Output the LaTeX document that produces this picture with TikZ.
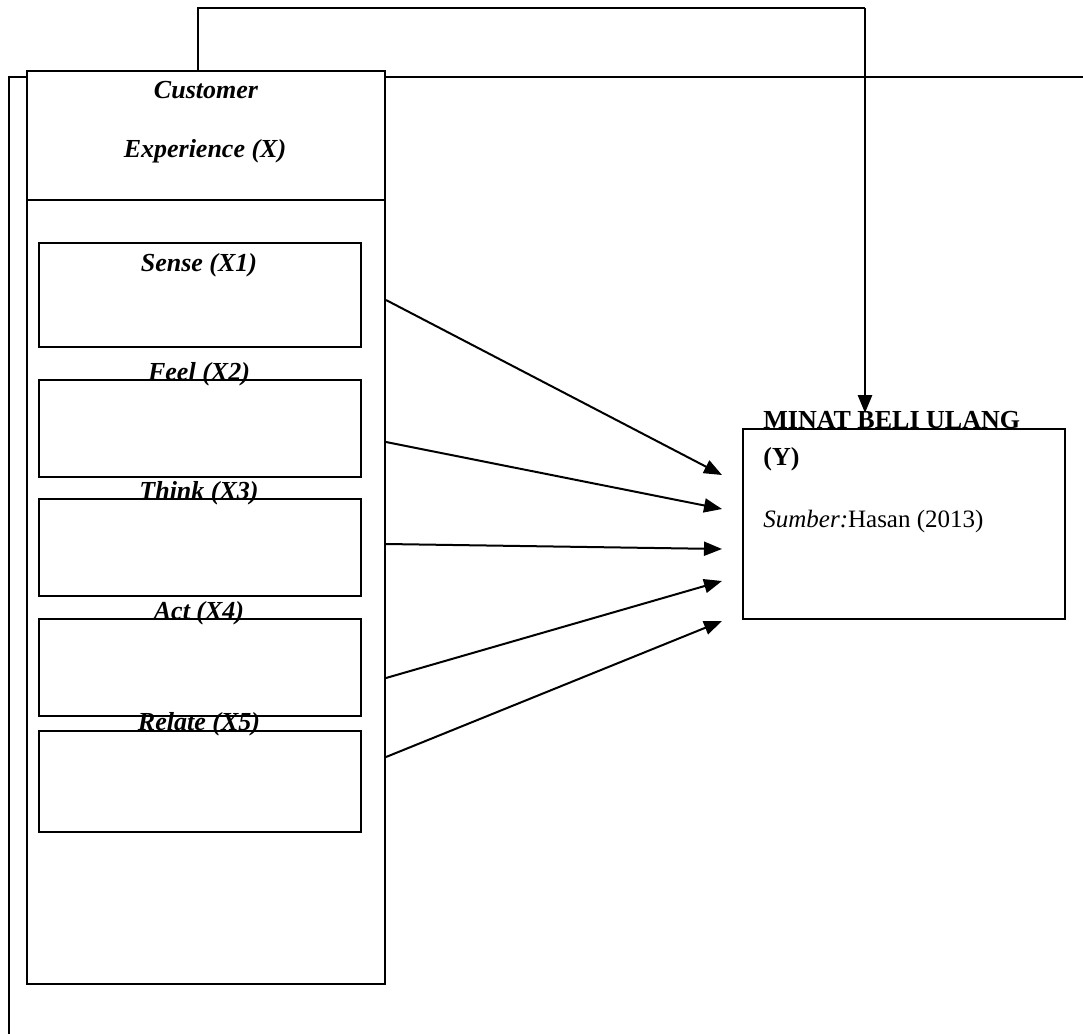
\documentclass[tikz,border=0pt]{standalone}
\usepackage{fontspec}
\setmainfont{Liberation Serif}
\usetikzlibrary{arrows.meta,positioning}

\begin{document}
\begin{tikzpicture}[x=0.5pt, y=-0.5pt,
    box/.style={draw, line width=1pt, inner sep=0pt},
    lbl/.style={font=\fontsize{13}{15}\selectfont\bfseries\itshape, anchor=base, inner sep=0pt},
    arr/.style={-{Triangle[length=9pt, width=7pt]}, line width=1pt}]
  \useasboundingbox (0,0) rectangle (1083,1034);
  % Outer frame lines
  \draw[line width=1pt] (27,77) -- (9,77) -- (9,1034);
  \draw[line width=1pt] (385,77) -- (1083,77);
  % Customer experience
  \node[box, minimum width=179pt, minimum height=456.5pt] (cx) at (206,527.5) {};
  \draw[line width=1pt] (cx.west |- 0,200) -- (cx.east |- 0,200);
  \node[lbl] (cxa) at (206,98) {Customer};
  \node[lbl] (cxb) at (205,157) {Experience (X)};
  % Dimensions
  \node[box, minimum width=161pt, minimum height=52pt] (sense) at (200,295) {};
  \node[box, minimum width=161pt, minimum height=48.5pt] (feel) at (200,428.5) {};
  \node[box, minimum width=161pt, minimum height=48.5pt] (think) at (200,547.5) {};
  \node[box, minimum width=161pt, minimum height=48.5pt] (act) at (200,667.5) {};
  \node[box, minimum width=161pt, minimum height=50.5pt] (relate) at (200,781.5) {};
  \node[lbl] (senselbl) at (199,271) {Sense (X1)};
  \node[lbl] (feellbl) at (199,380) {Feel (X2)};
  \node[lbl] (thinklbl) at (199,499) {Think (X3)};
  \node[lbl] (actlbl) at (199,619) {Act (X4)};
  \node[lbl] (relatelbl) at (199,730) {Relate (X5)};
  % Minat beli ulang
  \node[box, minimum width=161pt, minimum height=95pt] (minat) at (904,524) {};
  \node[anchor=base west, inner sep=0pt, font=\fontsize{13}{15}\selectfont\bfseries] (minata) at (763,428) {MINAT BELI ULANG};
  \node[anchor=base west, inner sep=0pt, font=\fontsize{13}{15}\selectfont\bfseries] (minatb) at (763,465) {(Y)};
  \node[anchor=base west, inner sep=0pt, font=\fontsize{12.5}{15}\selectfont] (src) at (763,527) {\textit{Sumber:}Hasan (2013)};
  % Arrows
  \coordinate (s1) at (cx.east |- 0,300);
  \coordinate (s2) at (cx.east |- 0,442);
  \coordinate (s3) at (cx.east |- 0,544);
  \coordinate (s4) at (cx.east |- 0,678);
  \coordinate (s5) at (cx.east |- 0,757);
  \coordinate (t1) at (722,475);
  \coordinate (t2) at (722,509);
  \coordinate (t3) at (722,549);
  \coordinate (t4) at (722,581);
  \coordinate (t5) at (722,621);
  \draw[arr] (s1) -- (t1);
  \draw[arr] (s2) -- (t2);
  \draw[arr] (s3) -- (t3);
  \draw[arr] (s4) -- (t4);
  \draw[arr] (s5) -- (t5);
  % Top connector
  \coordinate (top) at (198,71);
  \coordinate (mtop) at (865,413);
  \draw[line width=1pt] (top) |- (865,8);
  \draw[arr, line width=1.4pt] (865,8) -- (mtop);
\end{tikzpicture}
\end{document}
